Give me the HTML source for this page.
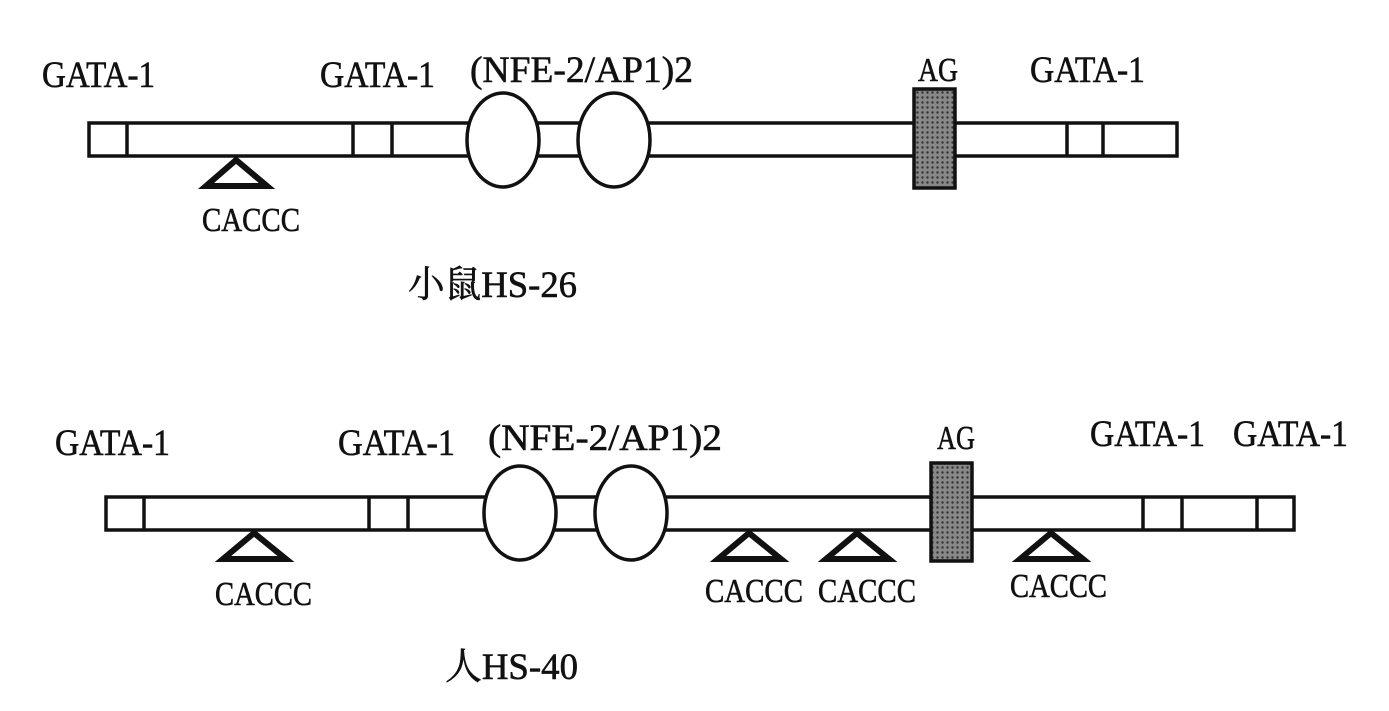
<!DOCTYPE html>
<html><head><meta charset="utf-8"><style>
html,body{margin:0;padding:0;background:#fff;}
svg{display:block}
text{font-family:"Liberation Serif","Noto Serif CJK SC",serif;font-size:37px;fill:#111;stroke:#111;stroke-width:0.6;}
text.s{font-size:34px;}
</style></head><body>
<svg width="1389" height="711" viewBox="0 0 1389 711" xmlns="http://www.w3.org/2000/svg">
<rect width="1389" height="711" fill="#fff"/>
<defs>
<pattern id="dots" width="5" height="5" patternUnits="userSpaceOnUse">
<rect width="5" height="5" fill="#888"/><circle cx="2.5" cy="2.5" r="1.2" fill="#333"/>
</pattern>
</defs>
<g stroke="#111" stroke-width="3.5" fill="#fff">
<rect x="89" y="123" width="1088" height="33"/>
<line x1="127" y1="123" x2="127" y2="156"/>
<line x1="353" y1="123" x2="353" y2="156"/>
<line x1="392" y1="123" x2="392" y2="156"/>
<line x1="1067" y1="123" x2="1067" y2="156"/>
<line x1="1103" y1="123" x2="1103" y2="156"/>
<ellipse cx="503" cy="140" rx="36" ry="47"/>
<ellipse cx="614" cy="140" rx="36" ry="47"/>
<rect x="914" y="89" width="41" height="99" fill="url(#dots)"/>
<rect x="106" y="497" width="1188" height="33"/>
<line x1="144" y1="497" x2="144" y2="530"/>
<line x1="369" y1="497" x2="369" y2="530"/>
<line x1="408" y1="497" x2="408" y2="530"/>
<line x1="1143" y1="497" x2="1143" y2="530"/>
<line x1="1182" y1="497" x2="1182" y2="530"/>
<line x1="1257" y1="497" x2="1257" y2="530"/>
<ellipse cx="520" cy="513" rx="36" ry="47"/>
<ellipse cx="631" cy="513" rx="36" ry="47"/>
<rect x="931" y="463" width="41" height="98" fill="url(#dots)"/>
</g>
<g stroke="#111" stroke-width="6" fill="#fff" stroke-linejoin="miter">
<polygon points="236,160 206,186 267,186"/>
<polygon points="254,533 223,559 286,559"/>
<polygon points="749,533 718,559 781,559"/>
<polygon points="857,533 826,559 889,559"/>
<polygon points="1051,533 1020,559 1083,559"/>
</g>
<g>
<text x="42" y="87" textLength="113" lengthAdjust="spacingAndGlyphs">GATA-1</text>
<text x="320" y="87" textLength="115" lengthAdjust="spacingAndGlyphs">GATA-1</text>
<text x="470" y="82" textLength="223" lengthAdjust="spacingAndGlyphs">(NFE-2/AP1)2</text>
<text class="s" x="918" y="81" textLength="40" lengthAdjust="spacingAndGlyphs">AG</text>
<text x="1030" y="82" textLength="115" lengthAdjust="spacingAndGlyphs">GATA-1</text>
<text class="s" x="202" y="231" textLength="98" lengthAdjust="spacingAndGlyphs">CACCC</text>
<text x="408" y="297" textLength="169" lengthAdjust="spacingAndGlyphs">小鼠HS-26</text>

<text x="55" y="455" textLength="115" lengthAdjust="spacingAndGlyphs">GATA-1</text>
<text x="338" y="455" textLength="117" lengthAdjust="spacingAndGlyphs">GATA-1</text>
<text x="488" y="450" textLength="234" lengthAdjust="spacingAndGlyphs">(NFE-2/AP1)2</text>
<text class="s" x="937" y="449" textLength="38" lengthAdjust="spacingAndGlyphs">AG</text>
<text x="1090" y="446" textLength="115" lengthAdjust="spacingAndGlyphs">GATA-1</text>
<text x="1233" y="446" textLength="115" lengthAdjust="spacingAndGlyphs">GATA-1</text>
<text class="s" x="215" y="605" textLength="97" lengthAdjust="spacingAndGlyphs">CACCC</text>
<text class="s" x="705" y="602" textLength="98" lengthAdjust="spacingAndGlyphs">CACCC</text>
<text class="s" x="818" y="602" textLength="98" lengthAdjust="spacingAndGlyphs">CACCC</text>
<text class="s" x="1010" y="597" textLength="97" lengthAdjust="spacingAndGlyphs">CACCC</text>
<text x="445" y="679" textLength="133" lengthAdjust="spacingAndGlyphs">人HS-40</text>
</g>
</svg>
</body></html>
